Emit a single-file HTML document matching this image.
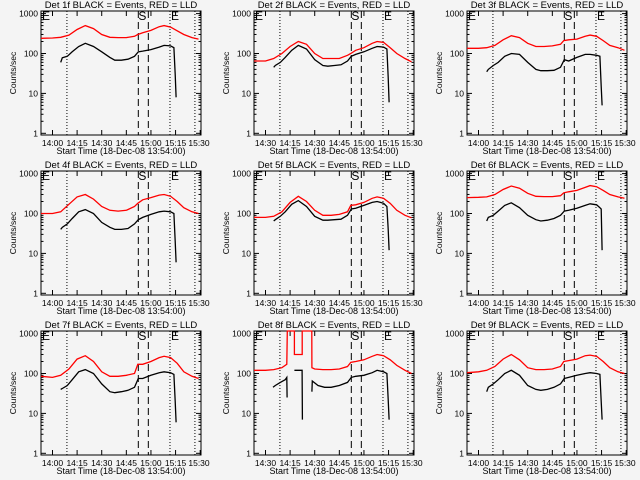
<!DOCTYPE html>
<html><head><meta charset="utf-8"><style>
html,body{margin:0;padding:0;background:#f4f4f4;}
svg{display:block;font-family:"Liberation Sans",sans-serif;}
</style></head><body>
<svg id="chart" width="640" height="480" xmlns="http://www.w3.org/2000/svg"></svg>
<script>
// minutes after 14:00
const redTimes   = [-7,0,5,10,15,20,25,30,35,40,45,50,52,55,60,65,68,72,76,80,85,89];
const blackTimes = [5,6,9,12,16,20,25,30,35,38,42,46,50,52.3,55,60,65,68,72,74,74.8,75.3];
const red1 = [240,245,255,290,400,500,420,300,255,250,250,270,300,330,380,470,500,460,370,300,250,230];
const blk1 = [60,78,85,110,150,180,150,110,80,68,68,72,85,110,115,125,145,160,155,140,30,8];
const red2 = [65,65,75,100,150,200,170,100,75,75,75,90,100,120,140,180,200,190,140,100,75,62];
const blk2 = [45,50,60,80,120,160,130,70,50,48,50,52,65,85,95,110,135,150,145,130,25,6];
const red3 = [135,135,140,160,220,280,250,180,150,150,155,170,210,220,230,270,290,270,210,160,140,120];
const blk3 = [35,40,50,60,85,100,95,60,40,37,37,38,45,70,65,80,95,95,90,85,15,5];
const red4 = [100,100,110,170,260,300,230,150,120,115,120,150,180,220,250,290,300,270,200,140,110,100];
const blk4 = [40,45,55,75,110,125,100,60,45,40,40,42,55,70,80,95,110,115,110,100,20,6];
const red5 = [80,80,85,110,190,270,200,120,90,90,95,110,160,165,190,240,260,240,180,120,90,78];
const blk5 = [65,70,85,110,170,210,150,85,68,68,70,72,90,130,135,160,190,200,180,150,40,12];
const red6 = [250,255,260,300,400,490,430,320,270,265,265,280,330,350,380,450,500,470,380,300,260,240];
const blk6 = [65,80,90,115,160,185,140,90,70,65,68,75,90,115,120,135,160,175,165,140,130,12];
const red7 = [85,80,90,130,230,280,200,110,85,85,90,100,170,170,200,250,270,250,180,110,85,75];
const blk7 = [40,42,50,70,110,125,100,55,35,33,35,38,45,75,75,90,105,110,105,95,20,6];
const redTimes8 = [-7,0,5,10,13,13.3,17.6,17.6,22.4,22.4,28.2,28.3,30,35,40,45,50,52,55,60,65,68,72,76,80,85,89];
const red8 = [120,120,125,140,170,5000,5000,300,300,5000,5000,140,130,125,125,130,150,190,200,220,270,300,280,220,160,120,100];
const blackTimes8 = [4.6,6,9,12,13,13.2,null,17.6,22.3,22.5,null,28.3,28.5,32,36,40,45,50,52.3,55,60,65,68,72,74,74.8,75.3];
const blk8 = [45,50,60,70,80,25,null,120,120,7,null,35,65,50,45,45,50,60,80,85,90,105,120,110,100,22,7];
const red9 = [105,110,120,150,230,300,220,140,125,125,130,150,200,210,230,280,290,270,200,140,110,100];
const blk9 = [35,45,55,70,100,120,90,50,40,38,40,45,55,75,80,90,100,105,100,95,20,7];
const yTickVals = [1,10,100,1000];
const yTickLabels = ["1","10","100","1000"];
const xTickMins = [0,15,30,45,60,75,90];
const xTickLabelsA = ["14:00","14:15","14:30","14:45","15:00","15:15","15:30"];
const xTickLabelsB = ["14:30","14:15","14:30","14:45","15:00","15:15","15:30"];
const dottedMins = [8.8,71.6,86.8];
const dashedMins = [52.3,58.4];

const panels = [
 {det:1,col:0,row:0,rt:redTimes,r:red1,bt:blackTimes,b:blk1,xl:xTickLabelsA},
 {det:2,col:1,row:0,rt:redTimes,r:red2,bt:blackTimes,b:blk2,xl:xTickLabelsB},
 {det:3,col:2,row:0,rt:redTimes,r:red3,bt:blackTimes,b:blk3,xl:xTickLabelsA},
 {det:4,col:0,row:1,rt:redTimes,r:red4,bt:blackTimes,b:blk4,xl:xTickLabelsA},
 {det:5,col:1,row:1,rt:redTimes,r:red5,bt:blackTimes,b:blk5,xl:xTickLabelsB},
 {det:6,col:2,row:1,rt:redTimes,r:red6,bt:blackTimes,b:blk6,xl:xTickLabelsA},
 {det:7,col:0,row:2,rt:redTimes,r:red7,bt:blackTimes,b:blk7,xl:xTickLabelsA},
 {det:8,col:1,row:2,rt:redTimes8,r:red8,bt:blackTimes8,b:blk8,xl:xTickLabelsB},
 {det:9,col:2,row:2,rt:redTimes,r:red9,bt:blackTimes,b:blk9,xl:xTickLabelsA}
];
const colL=[41,254,467], rowT=[11,171,331], W=160, H=124;
const NS="http://www.w3.org/2000/svg";
const svg=document.getElementById('chart');
function mk(tag,attrs,parent){const e=document.createElementNS(NS,tag);for(const k in attrs)e.setAttribute(k,attrs[k]);parent.appendChild(e);return e;}

panels.forEach(p=>{
  const L=colL[p.col], T=rowT[p.row], R=L+W, B=T+H;
  const xs=t=>L+(t+7)/97.5*W;
  const ys=v=>{const y=(B-1.7)-Math.log10(v)*39.9;return Math.max(T,Math.min(B,y));};
  const g=mk('g',{},svg);
  
  
  const title=mk('text',{x:(L+R)/2,y:T-3,'font-size':9.5,'text-anchor':'middle',fill:'#000'},g);
  title.textContent='Det '+p.det+'f BLACK = Events, RED = LLD';
  
  
  const box=mk('rect',{x:L,y:T,width:W,height:H,fill:'none',stroke:'#000','stroke-width':1},g);
  
  
  yTickVals.forEach((v,i)=>{
    const y=ys(v);
    mk('line',{x1:L,x2:L+5,y1:y,y2:y,stroke:'#000'},g);
    mk('line',{x1:R,x2:R-5,y1:y,y2:y,stroke:'#000'},g);
    const tl=mk('text',{x:L-3,y:y+3,'font-size':8.5,'text-anchor':'end'},g);
    tl.textContent=yTickLabels[i];
    
    
    if(i<yTickVals.length-1){for(let m=2;m<10;m++){const ym=ys(v*m);
      mk('line',{x1:L,x2:L+2.5,y1:ym,y2:ym,stroke:'#000'},g);
      mk('line',{x1:R,x2:R-2.5,y1:ym,y2:ym,stroke:'#000'},g);}}
  });
  const yl=mk('text',{x:0,y:0,'font-size':8.5,'text-anchor':'middle',transform:`translate(${L-25},${(T+B)/2}) rotate(-90)`},g);
  yl.textContent='Counts/sec';
  
  
  xTickMins.forEach((m,i)=>{
    const x=xs(m);
    mk('line',{x1:x,x2:x,y1:B,y2:B-5,stroke:'#000'},g);
    mk('line',{x1:x,x2:x,y1:T,y2:T+5,stroke:'#000'},g);
    const tl=mk('text',{x:Math.min(x,R-2),y:B+11,'font-size':8.5,'text-anchor':'middle'},g);
    tl.textContent=p.xl[i];
    
    
  });
  const xl=mk('text',{x:(L+R)/2,y:B+19,'font-size':9,'text-anchor':'middle'},g);
  xl.textContent='Start Time (18-Dec-08 13:54:00)';
  
  
  dottedMins.forEach(m=>{const l=mk('line',{x1:xs(m),x2:xs(m),y1:T,y2:B,stroke:'#000','stroke-dasharray':'1,2'},g);
    
    });
  dashedMins.forEach(m=>{const l=mk('line',{x1:xs(m),x2:xs(m),y1:T,y2:B,stroke:'#000','stroke-dasharray':'7,4'},g);
    
    });
  [[L+1,'E'],[(xs(dashedMins[0])+xs(dashedMins[1]))/2-5,'S'],[xs(dottedMins[1])+1,'E']].forEach(([x,s])=>{
    const t=mk('text',{x:x,y:T+9,'font-size':12},g);t.textContent=s;
    
    });
  function path(ts,vs){let d='',pen=false;
    for(let i=0;i<ts.length;i++){if(ts[i]===null||vs[i]===null){pen=false;continue;}
      d+=(pen?'L':'M')+xs(ts[i]).toFixed(1)+','+ys(vs[i]).toFixed(1);pen=true;}
    return d;}
  const rp=mk('path',{d:path(p.rt,p.r),fill:'none',stroke:'#ff0000','stroke-width':1.3},g);
  
  
  const bp=mk('path',{d:path(p.bt,p.b),fill:'none',stroke:'#000','stroke-width':1.3},g);
  
  
});
</script>
</body></html>
